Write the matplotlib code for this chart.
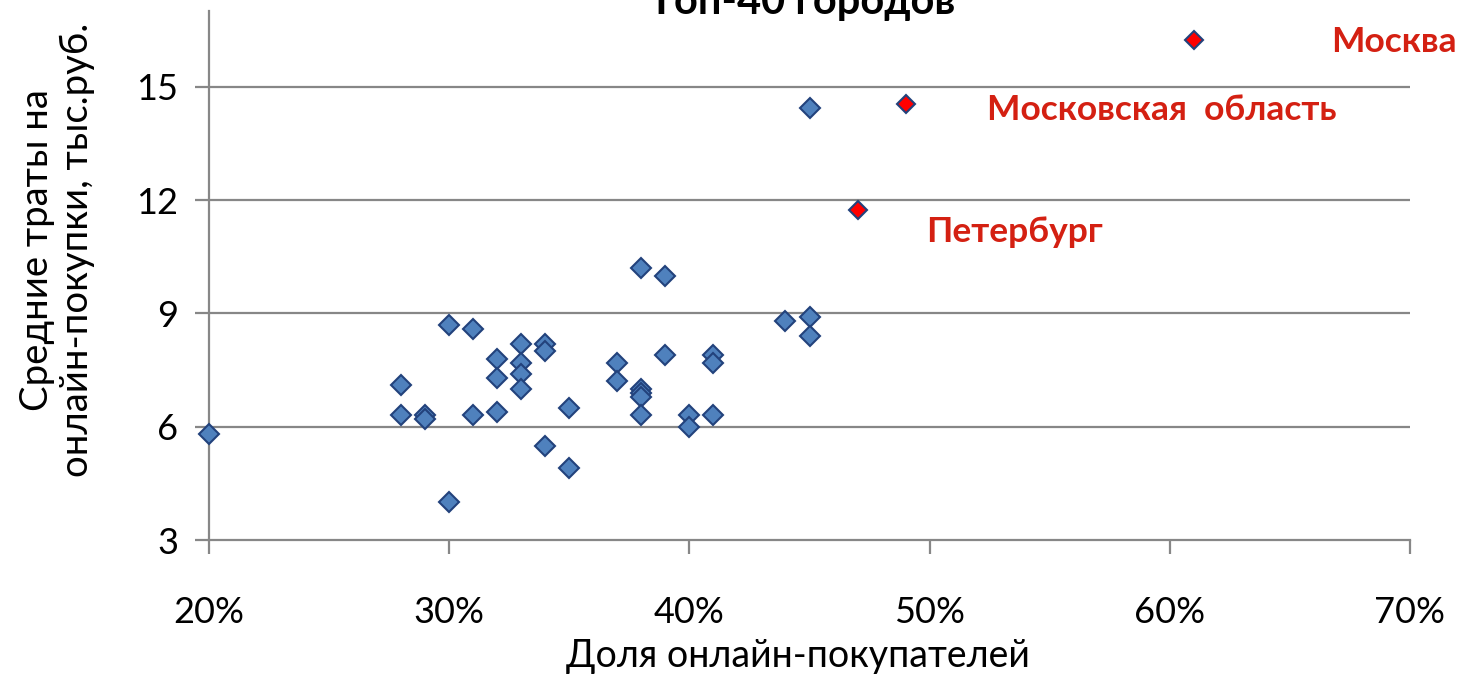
import matplotlib
matplotlib.use("Agg")
import matplotlib.pyplot as plt
from matplotlib.ticker import FuncFormatter

# share of online buyers (%) and average spend (thousand rub.), top-40 cities
share = [20, 28, 28, 29, 29, 30, 30, 31, 31, 32, 32, 32, 33, 33, 33, 33,
         34, 34, 34, 35, 35, 37, 37, 38, 38, 38, 38, 38, 39, 39, 40, 40,
         41, 41, 41, 44, 45, 45, 45]
spend = [5.8, 7.1, 6.3, 6.3, 6.2, 8.7, 4.0, 8.6, 6.3, 7.8, 7.3, 6.4, 8.2, 7.7,
         7.4, 7.0, 8.2, 8.0, 5.5, 6.5, 4.9, 7.7, 7.2, 10.2, 7.0, 6.9, 6.8,
         6.3, 10.0, 7.9, 6.3, 6.0, 7.9, 7.7, 6.3, 8.8, 8.9, 8.4, 14.45]

# highlighted regions
top_names = ["Москва", "Московская  область", "Петербург"]
top_share = [61, 49, 47]
top_spend = [16.25, 14.55, 11.75]
label_x = [66.7, 52.4, 49.85]
label_y = [16.2, 14.4, 11.15]

xticks = [20, 30, 40, 50, 60, 70]
yticks = [3, 6, 9, 12, 15]

plt.rcParams['font.family'] = ['Lato', 'DejaVu Sans']

fig = plt.figure(figsize=(14.68, 6.78), dpi=100)
ax = fig.add_axes([209 / 1468, 1 - 540 / 678, (1410 - 209) / 1468, (540 - 11) / 678])

grid_col = "#878787"
for v in yticks[1:]:
    ax.axhline(v, color=grid_col, lw=1.6, zorder=1)

ax.plot(share, spend, ls="none", marker="D", ms=10, mfc="#4F81BD",
        mec="#22427C", mew=1.5, zorder=3, clip_on=False)
ax.plot(top_share, top_spend, ls="none", marker="D", ms=9.5, mfc="#FF0000",
        mec="#22427C", mew=1.5, zorder=4, clip_on=False)

for name, x, y in zip(top_names, label_x, label_y):
    ax.text(x, y, name, color="#D42012", fontsize=25.5, fontweight="bold",
            ha="left", va="center", clip_on=False)

ax.set_xlim(20, 70)
ax.set_ylim(3, 17.01)
ax.set_xticks(xticks)
ax.set_yticks(yticks)
ax.xaxis.set_major_formatter(FuncFormatter(lambda v, p: f"{v:.0f}%"))

for side in ["top", "right"]:
    ax.spines[side].set_visible(False)
for side in ["left", "bottom"]:
    ax.spines[side].set_color(grid_col)
    ax.spines[side].set_linewidth(1.6)
ax.tick_params(axis="both", colors=grid_col, width=1.6, length=10,
               labelcolor="black", labelsize=26)
ax.tick_params(axis="x", pad=30)
ax.tick_params(axis="y", pad=12)

ax.set_xlabel("Доля онлайн-покупателей", fontsize=27, labelpad=10)
ax.xaxis.set_label_coords(0.49, -0.185)
fig.text(57 / 1468, 1 - 250 / 678, "Средние траты на\nонлайн-покупки, тыс.руб.",
         rotation=90, ha="center", va="center", fontsize=27.5, linespacing=1.15)

fig.text(802 / 1468, 1 - 14 / 678, "Топ-40 городов", ha="center",
         va="baseline", fontsize=30, fontweight="bold")

fig.savefig("out.png", dpi=100)
